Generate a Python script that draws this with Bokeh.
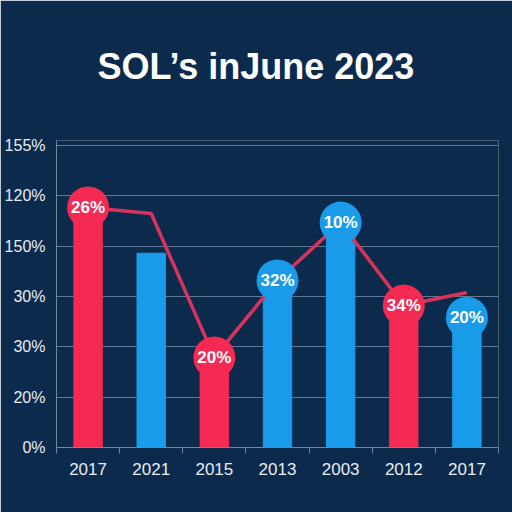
from bokeh.plotting import figure
from bokeh.models import ColumnDataSource, FixedTicker, Range1d, Title
from bokeh.core.properties import value
from bokeh.embed import file_html
from bokeh.resources import INLINE

# ---- data ----
categories = ["2017", "2021", "2015", "2013", "2003", "2012", "2017"]
bar_values = [4.77, 3.86, 1.79, 3.32, 4.47, 2.82, 2.58]
bar_colors = ["#f42a52", "#1a9be9", "#f42a52", "#1a9be9", "#1a9be9", "#f42a52", "#1a9be9"]
bubble_labels = ["26%", "", "20%", "32%", "10%", "34%", "20%"]
line_values = [4.77, 4.65, 1.79, 3.32, 4.47, 2.82, 3.08]
y_tick_labels = ["0%", "20%", "30%", "30%", "150%", "120%", "155%"]

BG = "#0c2a4b"
x_pos = [i + 0.5 for i in range(len(categories))]

bars = ColumnDataSource(dict(x=x_pos, top=bar_values, color=bar_colors))
idx = [i for i, t in enumerate(bubble_labels) if t]
bubbles = ColumnDataSource(dict(
    x=[x_pos[i] for i in idx],
    y=[bar_values[i] for i in idx],
    color=[bar_colors[i] for i in idx],
    label=[bubble_labels[i] for i in idx],
))

p = figure(width=512, height=512, output_backend="svg", toolbar_location=None,
           x_range=Range1d(0, len(categories)), y_range=Range1d(0, 6.1),
           min_border_left=56, min_border_right=14, min_border_bottom=65, min_border_top=140)
p.background_fill_color = BG
p.border_fill_color = BG
p.outline_line_color = None

p.title.text = "SOL\u2019s inJune 2023"
p.title.align = "left"
p.title.offset = 41
p.title.text_color = "#ffffff"
p.title.text_font = "Liberation Sans"
p.title.text_font_style = "bold"
p.title.text_font_size = "36px"

# spacer between title and plot
spacer = Title(text=" ", text_font_size="33px", text_color=BG)
p.add_layout(spacer, "above")

# bars
p.vbar(x="x", top="top", bottom=0, width=0.45, color="color", source=bars)
# line
p.line(x_pos, line_values, line_color="#d8335f", line_width=3.5)
# bubbles
p.scatter(x="x", y="y", size=42, fill_color="color", line_color=None, source=bubbles)
p.text(x="x", y="y", text="label", source=bubbles, text_align="center",
       text_baseline="middle", text_color="#ffffff", text_font=value("Liberation Sans"),
       text_font_style="bold", text_font_size="17px")

# x axis
xa = p.xaxis[0]
xa.ticker = FixedTicker(ticks=x_pos, minor_ticks=list(range(len(categories) + 1)))
xa.major_label_overrides = {x: c for x, c in zip(x_pos, categories)}
xa.major_tick_line_color = None
xa.minor_tick_line_color = "#6f86a0"
xa.minor_tick_out = 6
xa.minor_tick_in = 0
xa.axis_line_color = "#6f86a0"
xa.major_label_text_color = "#e6edf5"
xa.major_label_text_font = "Liberation Sans"
xa.major_label_text_font_size = "17px"
xa.major_label_standoff = 9

# y axis
ya = p.yaxis[0]
ya.ticker = FixedTicker(ticks=list(range(len(y_tick_labels))))
ya.major_label_overrides = {i: t for i, t in enumerate(y_tick_labels)}
ya.major_tick_line_color = None
ya.minor_tick_line_color = None
ya.axis_line_color = "#6f86a0"
ya.major_label_text_color = "#e6edf5"
ya.major_label_text_font = "Liberation Sans"
ya.major_label_text_font_size = "16px"
ya.major_label_standoff = 5

p.xgrid.grid_line_color = None
p.ygrid.grid_line_color = "#5f7894"
p.ygrid.grid_line_width = 1.2
p.ygrid.ticker = FixedTicker(ticks=list(range(len(y_tick_labels))))

open("out.html", "w").write(file_html(p, INLINE))
